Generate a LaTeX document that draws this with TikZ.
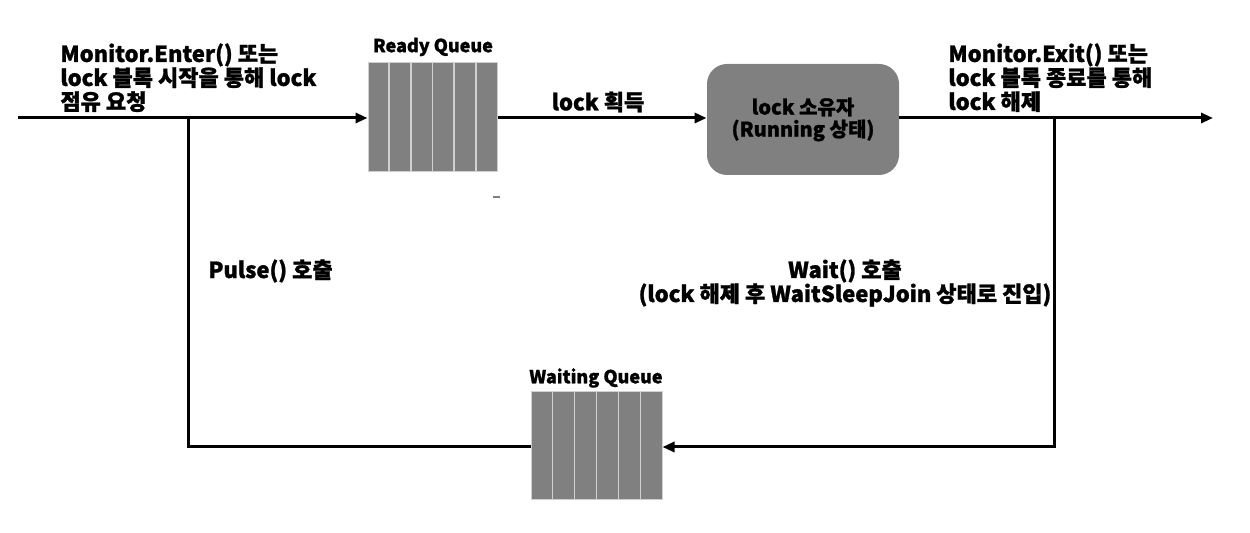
\documentclass[tikz,border=0pt]{standalone}
\usepackage{fontspec}
\setmainfont{Noto Sans CJK KR}[BoldFeatures={FakeBold=1.2}]
\usetikzlibrary{arrows.meta,calc}
\definecolor{qgray}{HTML}{808080}
\definecolor{qline}{HTML}{D0D0D0}
\begin{document}
\begin{tikzpicture}[x=0.5pt,y=-0.5pt,
 conn/.style={line width=1.5pt,-{Triangle[length=6pt,width=5pt]}},
 plain/.style={line width=1.5pt},
 lbl/.style={font=\fontsize{11}{12}\selectfont\bfseries, inner sep=0pt, align=left},
 qlbl/.style={font=\fontsize{9}{10}\selectfont\bfseries, inner sep=0pt},
 queue/.style={rectangle, fill=qgray, draw=qline, inner sep=0pt, line width=0.5pt},
 owner/.style={rectangle, rounded corners=10pt, fill=qgray, inner sep=0pt, minimum width=96pt, minimum height=55.5pt, align=center, font=\fontsize{10}{11}\selectfont\bfseries},
]
\useasboundingbox (0,0) rectangle (1250,533);

% queues
\node[queue, minimum width=64.5pt, minimum height=54.5pt] (rq) at (432.5,117.5) {};
\node[queue, minimum width=65.5pt, minimum height=54pt] (wq) at (596.5,446) {};
\foreach \q in {rq,wq}{
  \foreach \i in {1,...,5}{
    \draw[qline, line width=0.8pt] ($(\q.north west)!\i/6!(\q.north east)$) -- ($(\q.south west)!\i/6!(\q.south east)$);
  }
}
\node[qlbl] (rql) at (433,47) {Ready Queue};
\node[qlbl] (wql) at (596,378) {Waiting Queue};

% owner
\node[owner] (ow) at (803,119.5) {lock 소유자\\(Running 상태)};

% coordinates
\coordinate (start) at (18,118);
\coordinate (end) at (1213,118);
\coordinate (lj) at (188,118);
\coordinate (lc) at (188,447);
\coordinate (rj) at (1054,118);
\coordinate (rc) at (1054,447);

% connectors
\draw[conn] (start) -- (start -| rq.west);
\draw[conn] (rq.east |- start) -- (start -| ow.west);
\draw[conn] (start -| ow.east) -- (end);
\draw[plain] (lj) -- (lc) -- (lc -| wq.west);
\draw[conn] (rj) -- (rc) -- (rc -| wq.east);

% tiny mark
\draw[gray, line width=0.6pt] (493,197) -- (500,197);

% labels
\node[lbl, anchor=north west] (tl) at (60,43) {Monitor.Enter() 또는\\lock 블록 시작을 통해 lock\\점유 요청};
\node[lbl, anchor=north west] (tr) at (948,43) {Monitor.Exit() 또는\\lock 블록 종료를 통해\\lock 해제};
\node[lbl] (acq) at (598,102) {lock 획득};
\node[lbl, anchor=west] (pulse) at (208,271) {Pulse() 호출};
\node[lbl, align=center] (wait) at (845,283) {Wait() 호출\\(lock 해제 후 WaitSleepJoin 상태로 진입)};
\end{tikzpicture}
\end{document}
